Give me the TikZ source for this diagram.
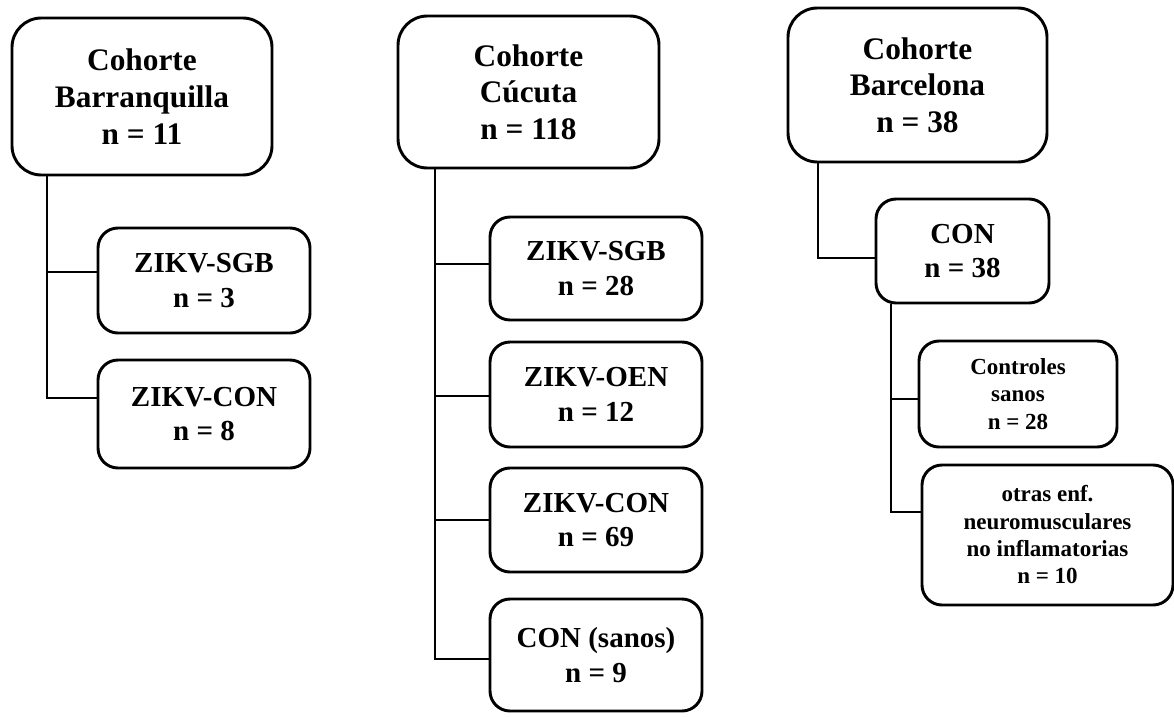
\documentclass[tikz,border=0pt]{standalone}
\usepackage{fontspec}
\setmainfont{Liberation Serif}

\begin{document}
\begin{tikzpicture}[x=0.75pt, y=-0.75pt]
    \tikzstyle{cohort box}=[
        draw = black,
        line width = 2.2pt,
        rounded corners = 22pt,
        align = center,
        inner sep = 0pt,
        font = \fontsize{23.5}{27.5}\selectfont\bfseries
    ]
    \tikzstyle{group box}=[
        draw = black,
        line width = 2.2pt,
        rounded corners = 15pt,
        align = center,
        inner sep = 0pt,
        font = \fontsize{21.75}{26}\selectfont\bfseries
    ]
    \tikzstyle{small box}=[
        group box,
        font = \fontsize{17.25}{20.5}\selectfont\bfseries
    ]
    \tikzstyle{link}=[draw = black, line width = 1.5pt]

    \useasboundingbox (0, 0) rectangle (1174, 717);

    % cohorts
    \node[cohort box, minimum width=195pt, minimum height=117.75pt]  (barr) at (142, 96.5)   {Cohorte\\Barranquilla\\n = 11};
    \node[cohort box, minimum width=195.75pt, minimum height=114pt]  (cucu) at (528.5, 92)   {Cohorte\\Cúcuta\\n = 118};
    \node[cohort box, minimum width=194.25pt, minimum height=115.5pt] (barc) at (917.5, 85)  {Cohorte\\Barcelona\\n = 38};

    % Barranquilla
    \node[group box, minimum width=159pt, minimum height=78.75pt] (bSGB) at (204, 280.5) {ZIKV-SGB\\n = 3};
    \node[group box, minimum width=159pt, minimum height=81pt]    (bCON) at (204, 414)   {ZIKV-CON\\n = 8};

    % Cucuta
    \node[group box, minimum width=159pt, minimum height=77.25pt] (cSGB) at (596, 268.5) {ZIKV-SGB\\n = 28};
    \node[group box, minimum width=159pt, minimum height=78.75pt] (cOEN) at (596, 394.5) {ZIKV-OEN\\n = 12};
    \node[group box, minimum width=159pt, minimum height=78pt]    (cCON) at (596, 520)   {ZIKV-CON\\n = 69};
    \node[group box, minimum width=159pt, minimum height=84pt]    (cSAN) at (596, 655)   {CON (sanos)\\n = 9};

    % Barcelona
    \node[group box, minimum width=129.75pt, minimum height=78pt]  (rCON) at (962.5, 251)  {CON\\n = 38};
    \node[small box, minimum width=148.5pt, minimum height=79.5pt] (rCTL) at (1018, 394)   {Controles\\sanos\\n = 28};
    \node[small box, minimum width=188.25pt, minimum height=105pt] (rOEN) at (1047.5, 535) {otras enf.\\neuromusculares\\no inflamatorias\\n = 10};

    \coordinate (bTrunk) at (47, 0);
    \coordinate (cTrunk) at (435, 0);
    \coordinate (rTrunk) at (818, 0);
    \coordinate (sTrunk) at (891, 0);

    \draw[link] (barr.south -| bTrunk) |- ([yshift=6.4pt]bSGB.west);
    \draw[link] (barr.south -| bTrunk) |- ([yshift=12pt]bCON.west);

    \draw[link] (cucu.south -| cTrunk) |- ([yshift=3.4pt]cSGB.west);
    \draw[link] (cucu.south -| cTrunk) |- ([yshift=-1.1pt]cOEN.west);
    \draw[link] (cucu.south -| cTrunk) |- (cCON.west);
    \draw[link] (cucu.south -| cTrunk) |- ([yshift=-3pt]cSAN.west);

    \draw[link] (barc.south -| rTrunk) |- ([yshift=-5.25pt]rCON.west);
    \draw[link] (rCON.south -| sTrunk) |- ([yshift=-3.75pt]rCTL.west);
    \draw[link] (rCON.south -| sTrunk) |- ([yshift=17.25pt]rOEN.west);

\end{tikzpicture}
\end{document}
